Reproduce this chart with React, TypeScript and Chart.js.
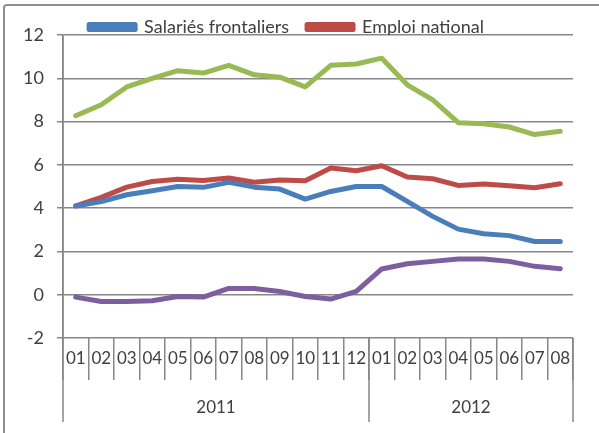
import React, { useEffect, useRef } from "react";
import { Chart, registerables } from "chart.js";

Chart.register(...registerables);

const months = ["01", "02", "03", "04", "05", "06", "07", "08", "09", "10", "11", "12", "01", "02", "03", "04", "05", "06", "07", "08"];
const years = ["2011", "2011", "2011", "2011", "2011", "2011", "2011", "2011", "2011", "2011", "2011", "2011", "2012", "2012", "2012", "2012", "2012", "2012", "2012", "2012"];

const salariesFrontaliers = [4.1, 4.3, 4.62, 4.8, 5.0, 4.96, 5.19, 4.97, 4.88, 4.42, 4.77, 5.0, 5.0, 4.31, 3.62, 3.03, 2.82, 2.73, 2.46, 2.46];
const emploiNational = [4.11, 4.5, 4.97, 5.23, 5.34, 5.28, 5.39, 5.2, 5.3, 5.27, 5.85, 5.73, 5.96, 5.44, 5.36, 5.05, 5.11, 5.04, 4.94, 5.13];
const serieVerte = [8.27, 8.78, 9.6, 10.0, 10.35, 10.24, 10.6, 10.16, 10.05, 9.6, 10.6, 10.66, 10.93, 9.7, 9.0, 7.95, 7.9, 7.75, 7.4, 7.55];
const serieViolette = [-0.11, -0.31, -0.31, -0.28, -0.08, -0.11, 0.29, 0.29, 0.15, -0.08, -0.2, 0.15, 1.19, 1.43, 1.54, 1.65, 1.65, 1.54, 1.31, 1.2];

const legendLabels = ["Salariés frontaliers", "Emploi national"];
const yMin = -2;
const yMax = 12;
const yStep = 2;

const FONT = "Lato, 'Open Sans', sans-serif";
const TEXT = "#404040";
const GRID = "#878787";

const yearAxisPlugin = {
  id: "yearAxis",
  afterDraw(chart: any) {
    const { ctx, chartArea, scales } = chart;
    const x = scales.x;
    const bottom = chartArea.bottom;
    const lineEnd = bottom + 84;
    const half = (x.getPixelForValue(1) - x.getPixelForValue(0)) / 2;
    ctx.save();
    ctx.strokeStyle = GRID;
    ctx.lineWidth = 1.5;
    ctx.beginPath();
    ctx.moveTo(chartArea.left, chartArea.top);
    ctx.lineTo(chartArea.left, lineEnd);
    ctx.stroke();
    const groups: { year: string; start: number; end: number }[] = [];
    years.forEach((y, i) => {
      const g = groups[groups.length - 1];
      if (g && g.year === y) g.end = i;
      else groups.push({ year: y, start: i, end: i });
    });
    ctx.fillStyle = TEXT;
    ctx.font = "17px " + FONT;
    ctx.textAlign = "center";
    ctx.textBaseline = "middle";
    groups.forEach((g) => {
      const l = x.getPixelForValue(g.start) - half;
      const r = x.getPixelForValue(g.end) + half;
      ctx.beginPath();
      ctx.moveTo(r, bottom);
      ctx.lineTo(r, lineEnd);
      ctx.stroke();
      ctx.fillText(g.year, (l + r) / 2, bottom + 70);
    });
    ctx.restore();
  },
};

export default function App() {
  const ref = useRef<HTMLCanvasElement>(null);
  useEffect(() => {
    if (!ref.current) return;
    const chart = new Chart(ref.current, {
      type: "line",
      data: {
        labels: months,
        datasets: [
          { label: legendLabels[0], data: salariesFrontaliers, borderColor: "#4a7ebb", backgroundColor: "#4a7ebb" },
          { label: legendLabels[1], data: emploiNational, borderColor: "#be4b48", backgroundColor: "#be4b48" },
          { label: "", data: serieVerte, borderColor: "#98b954", backgroundColor: "#98b954" },
          { label: "", data: serieViolette, borderColor: "#7d5fa0", backgroundColor: "#7d5fa0" },
        ].map((d) => ({
          ...d,
          borderWidth: 5,
          pointRadius: 0,
          tension: 0,
          borderJoinStyle: "round" as const,
          borderCapStyle: "round" as const,
        })),
      },
      options: {
        animation: false,
        responsive: false,
        maintainAspectRatio: false,
        layout: { padding: { top: 0, right: 26, left: 0, bottom: 0 } },
        plugins: {
          tooltip: { enabled: false },
          legend: {
            display: true,
            position: "top",
            maxHeight: 35,
            labels: {
              filter: (item: any) => item.datasetIndex < 2,
              boxWidth: 46,
              boxHeight: 5,
              padding: 18,
              color: TEXT,
              font: { family: FONT, size: 18 },
            },
          },
        },
        scales: {
          x: {
            offset: true,
            afterFit: (s: any) => {
              s.height = 95;
            },
            grid: {
              offset: true,
              drawOnChartArea: false,
              drawTicks: true,
              tickLength: 42,
              color: GRID,
              lineWidth: 1.5,
            },
            border: { display: false },
            ticks: {
              autoSkip: false,
              maxRotation: 0,
              padding: -32,
              color: TEXT,
              font: { family: FONT, size: 17 },
            },
          },
          y: {
            min: yMin,
            max: yMax,
            afterFit: (s: any) => {
              s.width = 63;
            },
            grid: {
              color: GRID,
              lineWidth: 1.5,
              tickLength: 6,
            },
            border: { display: true, color: GRID, width: 1.5 },
            ticks: {
              stepSize: yStep,
              padding: 13,
              color: TEXT,
              font: { family: FONT, size: 18 },
            },
          },
        },
      },
      plugins: [yearAxisPlugin],
    });
    return () => chart.destroy();
  }, []);

  return (
    <div style={{ position: "fixed", left: 0, top: 0, width: 599, height: 433, overflow: "hidden", background: "#fff" }}>
      <div
        style={{
          position: "absolute",
          left: 3,
          top: 4,
          width: 640,
          height: 480,
          border: "2px solid #8e8e8e",
          borderRadius: 4,
          boxSizing: "border-box",
        }}
      />
      <canvas ref={ref} width={599} height={433} style={{ position: "absolute", left: 0, top: 0, width: 599, height: 433 }} />
    </div>
  );
}
